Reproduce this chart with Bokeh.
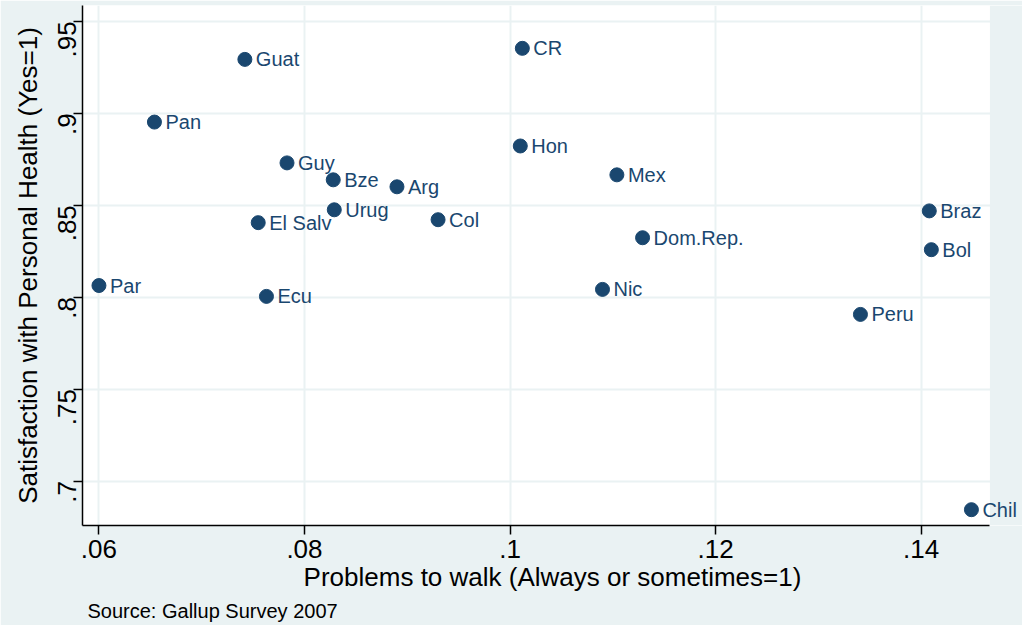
from bokeh.plotting import figure
from bokeh.models import (ColumnDataSource, FixedTicker, Range1d, Title, CustomJSTickFormatter,
                          LabelSet, BoxAnnotation)
from bokeh.core.properties import value
from bokeh.embed import file_html
from bokeh.resources import INLINE
import math

countries = ["Guat", "CR", "Pan", "Hon", "Guy", "Bze", "Arg", "Mex", "Urug", "Col",
             "El Salv", "Braz", "Dom.Rep.", "Bol", "Par", "Ecu", "Nic", "Peru", "Chil"]
walk = [0.0742, 0.1012, 0.0654, 0.1010, 0.0783, 0.0828, 0.0890, 0.1104, 0.0829, 0.0930,
        0.0755, 0.1408, 0.1129, 0.1410, 0.0600, 0.0763, 0.1090, 0.1341, 0.1449]
health = [0.9293, 0.9353, 0.8952, 0.8822, 0.8730, 0.8638, 0.8600, 0.8665, 0.8475, 0.8421,
          0.8405, 0.8469, 0.8323, 0.8258, 0.8063, 0.8004, 0.8042, 0.7906, 0.6844]

x_ticks = [0.06, 0.08, 0.10, 0.12, 0.14]
y_ticks = [0.70, 0.75, 0.80, 0.85, 0.90, 0.95]

X_MIN, X_PLOT_MAX, X_VIEW_MAX = 0.0584, 0.1467, 0.14987
Y_MIN, Y_MAX = 0.6758, 0.9586

BG = "#EAF2F3"
NAVY = "#1a476f"
FONT = "Liberation Sans"

src = ColumnDataSource(dict(x=walk, y=health, name=countries))

p = figure(width=1022, height=625, output_backend="svg", toolbar_location=None,
           x_range=Range1d(X_MIN, X_VIEW_MAX), y_range=Range1d(Y_MIN, Y_MAX),
           min_border_left=82, min_border_right=0, min_border_top=5, min_border_bottom=60)

p.background_fill_color = "white"
p.border_fill_color = BG
p.outline_line_color = None

# region right of the plot area shares the outer background colour
p.add_layout(BoxAnnotation(left=X_PLOT_MAX, fill_color=BG, fill_alpha=1.0,
                           line_color=None, level="underlay"))

p.scatter("x", "y", source=src, size=14, color=NAVY, line_color=NAVY)
labels = LabelSet(x="x", y="y", text="name", source=src, x_offset=11, text_baseline="middle",
                  text_align="left", text_color=NAVY, text_font=value(FONT),
                  text_font_size=value("20px"))
p.add_layout(labels)

fmt = CustomJSTickFormatter(code="""
var s = tick.toFixed(2);
s = s.replace(/0+$/, '');
if (s.endsWith('.')) s = s.slice(0, -1);
if (s.startsWith('0')) s = s.slice(1);
return s;
""")

for ax in (p.xaxis[0], p.yaxis[0]):
    ax.formatter = fmt
    ax.axis_line_color = "black"
    ax.axis_line_width = 1.5
    ax.major_tick_line_color = "black"
    ax.major_tick_line_width = 1.5
    ax.major_tick_out = 9
    ax.major_tick_in = 0
    ax.minor_tick_line_color = None
    ax.major_label_text_font = FONT
    ax.major_label_text_font_size = "26px"
    ax.major_label_text_color = "black"
    ax.axis_label_text_font = FONT
    ax.axis_label_text_font_size = "26px"
    ax.axis_label_text_font_style = "normal"
    ax.axis_label_text_color = "black"

p.xaxis.bounds = (X_MIN, X_PLOT_MAX)
p.xaxis.ticker = FixedTicker(ticks=x_ticks)
p.yaxis.ticker = FixedTicker(ticks=y_ticks)
p.yaxis.major_label_orientation = math.pi / 2
p.xaxis.major_label_standoff = 5
p.yaxis.major_label_standoff = 6
p.xaxis.axis_label = "Problems to walk (Always or sometimes=1)"
p.yaxis.axis_label = "Satisfaction with Personal Health (Yes=1)"
p.xaxis.axis_label_standoff = 1
p.yaxis.axis_label_standoff = 4

p.xgrid.ticker = FixedTicker(ticks=x_ticks)
p.ygrid.ticker = FixedTicker(ticks=y_ticks)
p.grid.grid_line_color = BG
p.grid.grid_line_width = 2

p.add_layout(Title(text="Source: Gallup Survey 2007", align="left", text_font=FONT,
                   text_font_size="20px", text_font_style="normal", text_color="black",
                   offset=5, standoff=7), "below")

open("out.html", "w").write(file_html(p, INLINE))
